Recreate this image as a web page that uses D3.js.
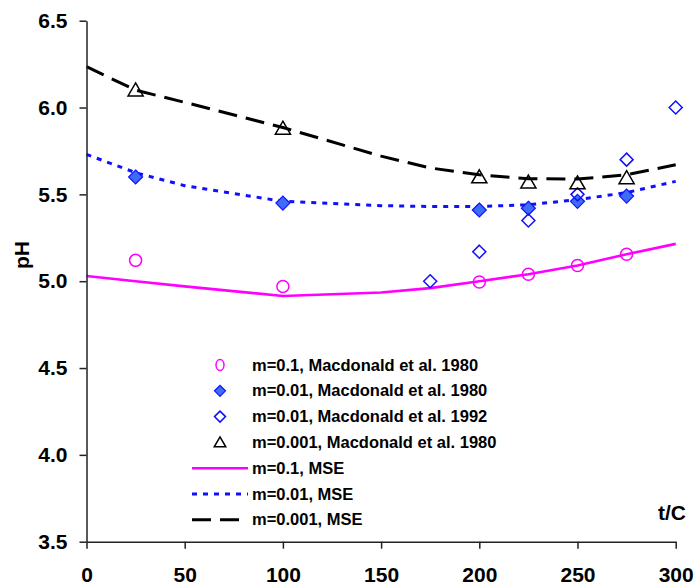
<!DOCTYPE html>
<html>
<head>
<meta charset="utf-8">
<script src="https://cdn.jsdelivr.net/npm/d3@7"></script>
<style>
  body { margin: 0; background: #fff; }
  text { font-family: "Liberation Sans", Arial, sans-serif; font-weight: bold; }
</style>
</head>
<body>
<svg id="chart"></svg>
<script>
// measured points (Macdonald et al.)
const tM01 = [25, 100, 200, 225, 250, 275];
const pHM01 = [5.12, 4.97, 4.995, 5.04, 5.09, 5.155];
const tM001 = [25, 100, 200, 225, 250, 275];
const pHM001 = [5.60, 5.45, 5.41, 5.42, 5.46, 5.49];
const tM001b = [175, 200, 225, 250, 275, 300];
const pHM001b = [5.00, 5.17, 5.35, 5.50, 5.70, 6.00];
const tM0001 = [25, 100, 200, 225, 250, 275];
const pHM0001 = [6.10, 5.88, 5.60, 5.57, 5.565, 5.595];

// MSE model curves
const tMSE = [0, 25, 50, 100, 150, 175, 200, 225, 250, 275, 300];
const mse01 = [5.03, 5.00, 4.97, 4.915, 4.935, 4.96, 5.00, 5.04, 5.09, 5.155, 5.215];
const mse001 = [5.73, 5.625, 5.55, 5.46, 5.435, 5.43, 5.43, 5.44, 5.47, 5.51, 5.575];
const mse0001 = [6.235, 6.10, 6.03, 5.885, 5.72, 5.652, 5.613, 5.59, 5.588, 5.613, 5.67];

const xTicks = [0, 50, 100, 150, 200, 250, 300];
const yTicks = [3.5, 4.0, 4.5, 5.0, 5.5, 6.0, 6.5];

const legendLabels = [
  'm=0.1, Macdonald et al. 1980',
  'm=0.01, Macdonald et al. 1980',
  'm=0.01, Macdonald et al. 1992',
  'm=0.001, Macdonald et al. 1980',
  'm=0.1, MSE',
  'm=0.01, MSE',
  'm=0.001, MSE',
];

const width = 695;
const height = 585;
const plotLeft = 86.5;
const plotRight = 675.7;
const plotTop = 20.7;
const plotBottom = 541.7;

const svg = d3.select('#chart')
    .attr('width', width)
    .attr('height', height);

const x = d3.scaleLinear().domain([0, 300]).range([plotLeft, plotRight]);
const y = d3.scaleLinear().domain([3.5, 6.5]).range([plotBottom, plotTop]);

const magenta = '#ff00ff';
const blue = '#1010ff';
const fillBlue = '#3d6cf5';

// line styles
const styles = [
  {stroke: magenta, dash: null, width: 2.6, values: mse01},
  {stroke: blue, dash: '5,6', width: 3, values: mse001},
  {stroke: '#000', dash: '19,9', width: 3, values: mse0001},
];

const line = d3.line()
    .x((d, i) => x(tMSE[i]))
    .y((d) => y(d));

svg.append('g').selectAll('path')
    .data(styles)
    .join('path')
    .attr('fill', 'none')
    .attr('stroke', (d) => d.stroke)
    .attr('stroke-width', (d) => d.width)
    .attr('stroke-dasharray', (d) => d.dash)
    .attr('d', (d) => line(d.values));

// marker shapes
const diamond = (s) => `M0,${-s}L${s},0L0,${s}L${-s},0Z`;
const triangle = (s) => `M0,${-s}L${s * 1.05},${s * 0.8}L${-s * 1.05},${s * 0.8}Z`;

const markers = [
  {t: tM01, v: pHM01, draw: (g) => g.append('circle').attr('r', 6).attr('fill', 'none').attr('stroke', magenta).attr('stroke-width', 1.5)},
  {t: tM001, v: pHM001, draw: (g) => g.append('path').attr('d', diamond(7)).attr('fill', fillBlue).attr('stroke', blue).attr('stroke-width', 1.2)},
  {t: tM001b, v: pHM001b, draw: (g) => g.append('path').attr('d', diamond(6.5)).attr('fill', 'none').attr('stroke', blue).attr('stroke-width', 1.5)},
  {t: tM0001, v: pHM0001, draw: (g) => g.append('path').attr('d', triangle(7.2)).attr('fill', 'none').attr('stroke', '#000').attr('stroke-width', 1.5)},
];

markers.forEach((m) => {
  const g = svg.append('g').selectAll('g')
      .data(m.v)
      .join('g')
      .attr('transform', (d, i) => `translate(${x(m.t[i])},${y(d)})`);
  m.draw(g);
});

// axes
const xAxis = d3.axisBottom(x).tickValues(xTicks).tickSize(7).tickPadding(18).tickSizeOuter(0).tickFormat(d3.format('d'));
svg.append('g')
    .attr('transform', `translate(0,${plotBottom})`)
    .call(xAxis)
    .call((g) => g.selectAll('text').attr('font-size', 21).attr('fill', '#000'))
    .call((g) => g.selectAll('line,path').attr('stroke', '#222').attr('stroke-width', 1.5));

const yAxis = d3.axisLeft(y).tickValues(yTicks).tickSize(7).tickPadding(12).tickSizeOuter(0).tickFormat(d3.format('.1f'));
svg.append('g')
    .attr('transform', `translate(${plotLeft},0)`)
    .call(yAxis)
    .call((g) => g.selectAll('text').attr('font-size', 21).attr('fill', '#000'))
    .call((g) => g.selectAll('line,path').attr('stroke', '#222').attr('stroke-width', 1.5));

// axis titles
svg.append('text')
    .attr('transform', `translate(29,255) rotate(-90)`)
    .attr('text-anchor', 'middle')
    .attr('font-size', 21)
    .text('pH');

svg.append('text')
    .attr('x', 686)
    .attr('y', 520)
    .attr('text-anchor', 'end')
    .attr('font-size', 21)
    .text('t/C');

// legend
const gLegend = svg.append('g').selectAll('g')
    .data(legendLabels)
    .join('g')
    .attr('transform', (d, i) => `translate(0,${365 + i * 25.8})`);

gLegend.append('text')
    .attr('x', 252)
    .attr('y', 5.5)
    .attr('font-size', 16.5)
    .text((d) => d);

gLegend.each(function(d, i) {
  const g = d3.select(this);
  if (i < 4) {
    const mg = g.append('g').attr('transform', 'translate(220,0)');
    if (i === 0) mg.append('path').attr('d', 'M0,-5.5A4,5.5,0,1,1,0,5.5A4,5.5,0,1,1,0,-5.5Z').attr('fill', 'none').attr('stroke', magenta).attr('stroke-width', 1.5);
    if (i === 1) mg.append('path').attr('d', diamond(5.5)).attr('fill', fillBlue).attr('stroke', blue).attr('stroke-width', 1.2);
    if (i === 2) mg.append('path').attr('d', diamond(5.5)).attr('fill', 'none').attr('stroke', blue).attr('stroke-width', 1.5);
    if (i === 3) mg.append('path').attr('d', triangle(5.5)).attr('fill', 'none').attr('stroke', '#000').attr('stroke-width', 1.5);
  } else {
    const s = styles[i - 4];
    g.append('line')
        .attr('x1', 192).attr('x2', 248)
        .attr('y1', 0).attr('y2', 0)
        .attr('stroke', s.stroke)
        .attr('stroke-width', s.width)
        .attr('stroke-dasharray', s.dash);
  }
});
</script>
</body>
</html>
